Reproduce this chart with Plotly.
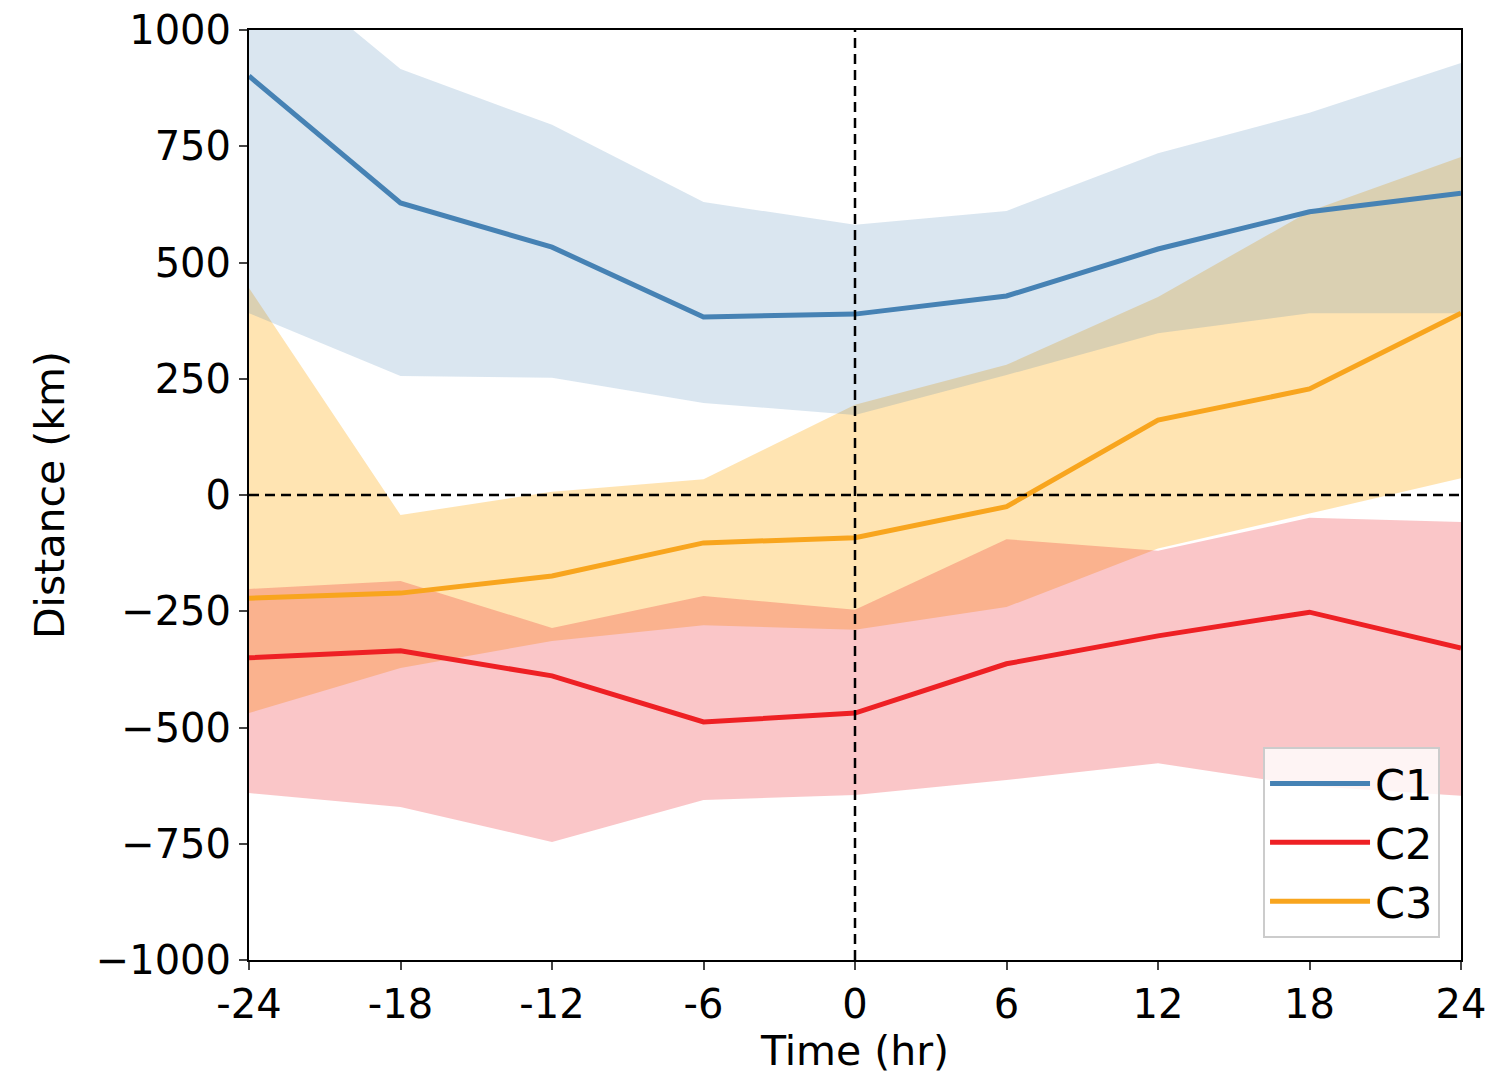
import plotly.graph_objects as go

hours = [-24, -18, -12, -6, 0, 6, 12, 18, 24]

c1_mean = [901, 628, 533, 383, 389, 428, 529, 609, 649]
c1_upper = [1185, 916, 796, 630, 581, 611, 735, 822, 929]
c1_lower = [391, 256, 252, 198, 172, 258, 348, 391, 391]

c2_mean = [-350, -335, -389, -488, -469, -363, -303, -252, -329]
c2_upper = [-202, -185, -286, -217, -247, -95, -120, -49, -58]
c2_lower = [-641, -671, -746, -656, -645, -613, -577, -626, -647]

c3_mean = [-222, -211, -174, -103, -92, -25, 161, 228, 391]
c3_upper = [445, -43, 7, 34, 194, 280, 426, 610, 727]
c3_lower = [-469, -372, -314, -280, -290, -241, -115, -40, 36]

x_ticks = [-24, -18, -12, -6, 0, 6, 12, 18, 24]
x_tick_labels = ["-24", "-18", "-12", "-6", "0", "6", "12", "18", "24"]
y_ticks = [-1000, -750, -500, -250, 0, 250, 500, 750, 1000]
y_tick_labels = ["\u22121000", "\u2212750", "\u2212500", "\u2212250", "0", "250", "500", "750", "1000"]

fig = go.Figure()

def band(upper, lower, color):
    fig.add_trace(go.Scatter(
        x=hours + hours[::-1], y=upper + lower[::-1],
        fill="toself", fillcolor=color, line=dict(width=0),
        mode="lines", showlegend=False, hoverinfo="skip"))

band(c3_upper, c3_lower, "rgba(255,165,0,0.3)")
band(c1_upper, c1_lower, "rgba(70,130,180,0.2)")
band(c2_upper, c2_lower, "rgba(237,28,36,0.25)")

fig.add_trace(go.Scatter(x=hours, y=c1_mean, mode="lines", name="C1",
                         line=dict(color="#4682B4", width=5)))
fig.add_trace(go.Scatter(x=hours, y=c2_mean, mode="lines", name="C2",
                         line=dict(color="#EE2024", width=5)))
fig.add_trace(go.Scatter(x=hours, y=c3_mean, mode="lines", name="C3",
                         line=dict(color="#F8A51E", width=5)))

fig.add_shape(type="line", x0=0, x1=0, y0=-1000, y1=1000, xref="x", yref="y",
              line=dict(color="black", width=2.5, dash="10px,6px"))
fig.add_shape(type="line", x0=-24, x1=24, y0=0, y1=0, xref="x", yref="y",
              line=dict(color="black", width=2.5, dash="10px,6px"))

fig.update_layout(
    width=1491, height=1082,
    margin=dict(l=249, r=30, t=30, b=122, autoexpand=False),
    plot_bgcolor="white", paper_bgcolor="white",
    font=dict(family="DejaVu Sans", size=40, color="black"),
    showlegend=True,
    legend=dict(x=0.9827, y=0.0237, xanchor="right", yanchor="bottom",
                bgcolor="rgba(255,255,255,0.8)", bordercolor="#cccccc", borderwidth=2,
                font=dict(size=43), itemwidth=100, tracegroupgap=8),
)
fig.update_xaxes(range=[-24, 24], tickvals=x_ticks, ticktext=x_tick_labels,
                 showgrid=False, zeroline=False, showline=True, linecolor="black",
                 linewidth=2, mirror=True, ticks="outside", ticklen=8, tickwidth=2,
                 tickfont=dict(size=40), automargin=False,
                 title=dict(text="Time (hr)", font=dict(size=41), standoff=6))
fig.update_yaxes(range=[-1000, 1000], tickvals=y_ticks, ticktext=y_tick_labels,
                 showgrid=False, zeroline=False, showline=True, linecolor="black",
                 linewidth=2, mirror=True, ticks="outside", ticklen=8, tickwidth=2,
                 tickfont=dict(size=40), automargin=False,
                 title=dict(text="Distance (km)", font=dict(size=41), standoff=18))

fig.write_html("out.html")
